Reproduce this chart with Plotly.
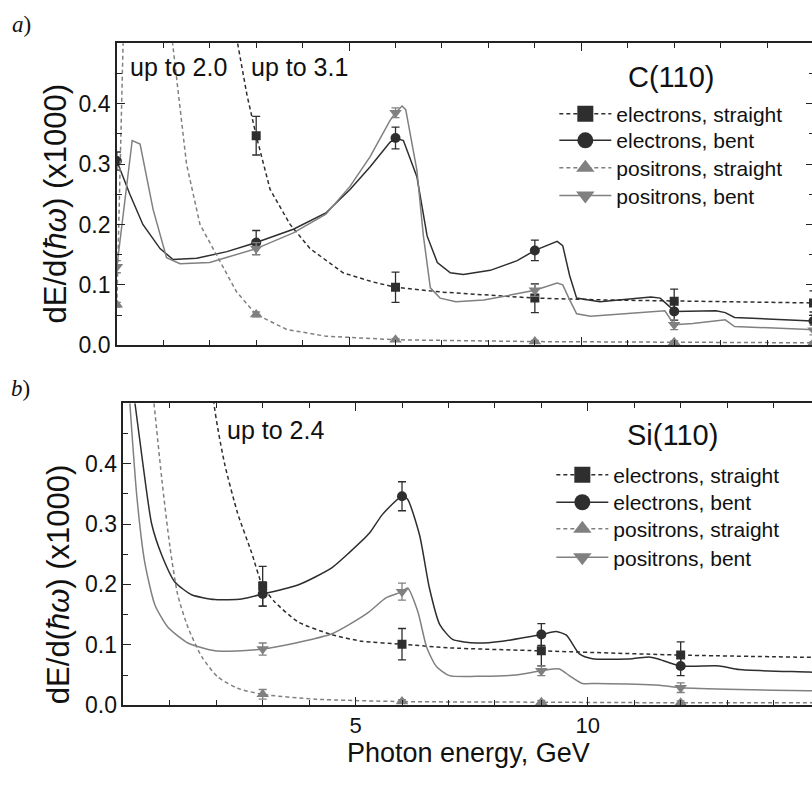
import plotly.graph_objects as go

# ---------------- data: panel a) C(110) ----------------
A_ES_CX = [0, 2.6, 2.8, 3.0, 3.3, 3.73, 4.16, 4.87, 5.5, 6.0, 7.0, 7.9, 9.0, 10.5, 12.0, 13.5, 15.0]
A_ES_CY = [3.1, 0.5, 0.415, 0.347, 0.258, 0.20, 0.16, 0.12, 0.105, 0.096, 0.088, 0.083, 0.078, 0.075, 0.073, 0.071, 0.070]
A_ES_MX = [3, 6, 9, 12, 15]
A_ES_MY = [0.347, 0.096, 0.078, 0.073, 0.070]
A_ES_ER = [0.032, 0.025, 0.024, 0.02, 0.02]

A_EB_CX = [0, 0.28, 0.56, 0.93, 1.21, 1.72, 2.37, 3.0, 3.8, 4.5, 5.02, 5.45, 5.88, 6.0, 6.17, 6.46, 6.68,
           6.9, 7.18, 7.46, 8.04, 8.62, 9.0, 9.48, 9.6, 9.75, 9.9, 10.4, 11.5, 11.7, 11.9, 12.0, 12.9,
           13.1, 13.3, 14.9, 15.0]
A_EB_CY = [0.305, 0.25, 0.20, 0.16, 0.142, 0.144, 0.155, 0.170, 0.192, 0.219, 0.258, 0.295, 0.336, 0.343,
           0.339, 0.279, 0.181, 0.137, 0.120, 0.117, 0.124, 0.140, 0.157, 0.172, 0.165, 0.115, 0.078,
           0.072, 0.080, 0.078, 0.064, 0.056, 0.057, 0.054, 0.046, 0.041, 0.040]
A_EB_MX = [0, 3, 6, 9, 12, 15]
A_EB_MY = [0.305, 0.170, 0.343, 0.157, 0.056, 0.040]
A_EB_ER = [0.015, 0.02, 0.018, 0.017, 0.015, 0.015]

A_PB_CX = [0, 0.33, 0.5, 0.78, 1.07, 1.36, 2.0, 3.0, 3.8, 4.5, 5.02, 5.45, 5.88, 6.0, 6.14, 6.22, 6.46,
           6.6, 6.75, 6.96, 7.3, 7.9, 8.47, 9.0, 9.48, 9.6, 9.75, 9.9, 10.2, 11.0, 11.8, 12.0, 12.4,
           13.1, 13.3, 14.9, 15.0]
A_PB_CY = [0.13, 0.339, 0.333, 0.225, 0.145, 0.135, 0.137, 0.160, 0.186, 0.217, 0.263, 0.312, 0.372,
           0.385, 0.396, 0.39, 0.29, 0.181, 0.095, 0.078, 0.072, 0.075, 0.083, 0.091, 0.103, 0.100,
           0.075, 0.052, 0.048, 0.052, 0.057, 0.034, 0.036, 0.042, 0.031, 0.026, 0.025]
A_PB_MX = [0, 3, 6, 9, 12, 15]
A_PB_MY = [0.13, 0.160, 0.385, 0.091, 0.034, 0.025]
A_PB_ER = [0.01, 0.01, 0.008, 0.01, 0.008, 0.008]

A_PS_CX = [0, 0.6, 1.2, 1.5, 1.79, 2.15, 2.58, 3.0, 3.66, 4.5, 6.0, 9.0, 12.0, 15.0]
A_PS_CY = [0.067, 2.0, 0.5, 0.30, 0.20, 0.148, 0.088, 0.051, 0.026, 0.015, 0.009, 0.006, 0.005, 0.004]
A_PS_MX = [0, 3, 6, 9, 12, 15]
A_PS_MY = [0.067, 0.051, 0.009, 0.006, 0.005, 0.004]
A_PS_ER = [0.004, 0.004, 0.002, 0.002, 0.002, 0.002]

# ---------------- data: panel b) Si(110) ----------------
B_ES_CX = [0, 1.95, 2.18, 2.46, 2.76, 3.0, 3.26, 3.76, 4.48, 5.13, 6.0, 7.0, 9.0, 12.0, 15.0]
B_ES_CY = [2.4, 0.5, 0.40, 0.318, 0.253, 0.197, 0.171, 0.138, 0.117, 0.106, 0.101, 0.095, 0.090, 0.083, 0.079]
B_ES_MX = [3, 6, 9, 12, 15]
B_ES_MY = [0.197, 0.101, 0.090, 0.083, 0.079]
B_ES_ER = [0.033, 0.026, 0.025, 0.022, 0.02]

B_EB_CX = [0.25, 0.42, 0.61, 0.83, 1.11, 1.47, 1.97, 2.55, 3.0, 3.76, 4.48, 4.87, 5.3, 5.58, 6.0, 6.12,
           6.38, 6.59, 6.81, 7.09, 7.6, 8.16, 9.0, 9.32, 9.54, 9.82, 10.1, 10.96, 11.32, 11.5, 12.0,
           12.83, 13.26, 14.76, 15.0]
B_EB_CY = [0.5, 0.40, 0.30, 0.248, 0.204, 0.183, 0.175, 0.176, 0.184, 0.199, 0.227, 0.253, 0.285, 0.316,
           0.346, 0.341, 0.281, 0.194, 0.134, 0.109, 0.103, 0.106, 0.117, 0.122, 0.116, 0.085, 0.077,
           0.077, 0.080, 0.077, 0.065, 0.065, 0.059, 0.055, 0.054]
B_EB_MX = [3, 6, 9, 12, 15]
B_EB_MY = [0.184, 0.346, 0.117, 0.065, 0.054]
B_EB_ER = [0.02, 0.024, 0.018, 0.016, 0.015]

B_PB_CX = [0.14, 0.29, 0.46, 0.68, 0.96, 1.39, 1.97, 2.55, 3.0, 3.76, 4.48, 4.87, 5.3, 5.66, 6.0, 6.12,
           6.34, 6.53, 6.74, 7.02, 7.73, 8.45, 9.0, 9.39, 9.6, 9.88, 10.2, 11.54, 12.0, 13.26, 14.76, 15.0]
B_PB_CY = [0.5, 0.346, 0.237, 0.166, 0.129, 0.103, 0.090, 0.090, 0.093, 0.104, 0.118, 0.134, 0.155,
           0.178, 0.188, 0.194, 0.155, 0.096, 0.064, 0.049, 0.048, 0.050, 0.057, 0.060, 0.049, 0.036,
           0.036, 0.033, 0.029, 0.026, 0.024, 0.024]
B_PB_MX = [3, 6, 9, 12, 15]
B_PB_MY = [0.093, 0.188, 0.057, 0.029, 0.024]
B_PB_ER = [0.01, 0.014, 0.008, 0.008, 0.008]

B_PS_CX = [0.66, 0.83, 1.0, 1.17, 1.39, 1.69, 2.03, 2.46, 3.0, 4.12, 6.0, 9.0, 12.0, 15.0]
B_PS_CY = [0.5, 0.373, 0.264, 0.183, 0.129, 0.080, 0.047, 0.028, 0.018, 0.010, 0.006, 0.005, 0.004, 0.004]
B_PS_MX = [3, 6, 9, 12, 15]
B_PS_MY = [0.018, 0.006, 0.005, 0.004, 0.004]
B_PS_ER = [0.008, 0.003, 0.003, 0.003, 0.003]

SERIES_NAMES = ["electrons, straight", "electrons, bent", "positrons, straight", "positrons, bent"]
Y_TICKS = [0.0, 0.1, 0.2, 0.3, 0.4]
Y_TICKTEXT = ["0.0", "0.1", "0.2", "0.3", "0.4"]
X_TICKS = [5, 10]
X_TICKTEXT = ["5", "10"]

# ---------------- styling ----------------
# The figure is slightly wider than the 812 px window so that, as in the
# reference, the right-hand frame falls just outside the visible page.
W, H = 822, 790
DARK = "#2e2e2e"
GRAY = "#808080"
DASH = "4px,3px"
FONT = "Liberation Sans, Arial, Helvetica, sans-serif"

STYLES = {
    "electrons, straight": dict(color=DARK, dash=DASH, symbol="square", size=9),
    "electrons, bent": dict(color=DARK, dash="solid", symbol="circle", size=10),
    "positrons, straight": dict(color=GRAY, dash=DASH, symbol="triangle-up", size=11),
    "positrons, bent": dict(color=GRAY, dash="solid", symbol="triangle-down", size=11),
}


def px_x(p):
    return p / W


def px_y(p):
    return (H - p) / H


fig = go.Figure()

# one single-entry legend per row so that row positions follow the reference
LEG_ROWS_A = [116, 143, 171, 199]
LEG_ROWS_B = [483, 511, 538, 567]
LEG_X_A = 555
LEG_X_B = 552
legend_layouts = {}
legend_ids_a = []
legend_ids_b = []
for i in range(4):
    la = "legend" if i == 0 else "legend%d" % (i + 1)
    lb = "legend%d" % (i + 5)
    legend_ids_a.append(la)
    legend_ids_b.append(lb)
    base = dict(xanchor="left", yanchor="middle", bgcolor="rgba(0,0,0,0)",
                font=dict(family=FONT, size=21, color="#111"), itemwidth=52)
    legend_layouts[la] = dict(x=px_x(LEG_X_A), y=px_y(LEG_ROWS_A[i]), **base)
    legend_layouts[lb] = dict(x=px_x(LEG_X_B), y=px_y(LEG_ROWS_B[i]), **base)


def add_series(name, cx, cy, mx, my, er, xa, ya, legend, shape):
    st = STYLES[name]
    fig.add_trace(go.Scatter(x=cx, y=cy, mode="lines", xaxis=xa, yaxis=ya, showlegend=False,
                             line=dict(color=st["color"], width=1.5, dash=st["dash"], shape=shape,
                                       smoothing=0.6), hoverinfo="skip"))
    fig.add_trace(go.Scatter(x=mx, y=my, mode="markers", xaxis=xa, yaxis=ya, showlegend=False,
                             marker=dict(symbol=st["symbol"], size=st["size"], color=st["color"]),
                             error_y=dict(type="data", array=er, width=4, thickness=1.3,
                                          color=st["color"])))
    # legend-only entry with the larger legend glyph
    fig.add_trace(go.Scatter(x=[None], y=[None], mode="lines+markers", xaxis=xa, yaxis=ya,
                             name=name, legend=legend,
                             line=dict(color=st["color"], width=1.5, dash=st["dash"]),
                             marker=dict(symbol=st["symbol"], size=16, color=st["color"])))


panel_a = [
    (A_ES_CX, A_ES_CY, A_ES_MX, A_ES_MY, A_ES_ER),
    (A_EB_CX, A_EB_CY, A_EB_MX, A_EB_MY, A_EB_ER),
    (A_PS_CX, A_PS_CY, A_PS_MX, A_PS_MY, A_PS_ER),
    (A_PB_CX, A_PB_CY, A_PB_MX, A_PB_MY, A_PB_ER),
]
panel_b = [
    (B_ES_CX, B_ES_CY, B_ES_MX, B_ES_MY, B_ES_ER),
    (B_EB_CX, B_EB_CY, B_EB_MX, B_EB_MY, B_EB_ER),
    (B_PS_CX, B_PS_CY, B_PS_MX, B_PS_MY, B_PS_ER),
    (B_PB_CX, B_PB_CY, B_PB_MX, B_PB_MY, B_PB_ER),
]
for i, (name, d) in enumerate(zip(SERIES_NAMES, panel_a)):
    add_series(name, *d, "x", "y", legend_ids_a[i], "linear")
for i, (name, d) in enumerate(zip(SERIES_NAMES, panel_b)):
    add_series(name, *d, "x2", "y2", legend_ids_b[i], "spline")

common_x = dict(showline=True, linecolor="#222", linewidth=1.5, mirror="allticks",
                ticks="inside", ticklen=8, tickwidth=1.3, tickcolor="#222",
                tickmode="array", tickvals=X_TICKS, ticktext=X_TICKTEXT,
                minor=dict(tickmode="linear", tick0=0, dtick=1, ticks="inside", ticklen=5,
                           tickwidth=1.2, tickcolor="#222", showgrid=False),
                showgrid=False, zeroline=False,
                tickfont=dict(family=FONT, size=22, color="#111"))
common_y = dict(showline=True, linecolor="#222", linewidth=1.5, mirror="allticks",
                ticks="inside", ticklen=8, tickwidth=1.3, tickcolor="#222",
                tickmode="array", tickvals=Y_TICKS, ticktext=Y_TICKTEXT, range=[0, 0.5],
                minor=dict(tickmode="linear", tick0=0, dtick=0.05, ticks="inside", ticklen=5,
                           tickwidth=1.2, tickcolor="#222", showgrid=False),
                showgrid=False, zeroline=False,
                tickfont=dict(family=FONT, size=23, color="#111"))

fig.update_layout(
    width=W, height=H,
    margin=dict(l=0, r=0, t=0, b=0),
    paper_bgcolor="white", plot_bgcolor="white",
    font=dict(family=FONT, color="#111"),
    xaxis=dict(domain=[px_x(117), px_x(814.5)], range=[0, 15], anchor="y", showticklabels=False, **common_x),
    yaxis=dict(domain=[px_y(351), px_y(44)], anchor="x", **common_y),
    xaxis2=dict(domain=[px_x(123.5), px_x(821)], range=[0, 15], anchor="y2", **common_x),
    yaxis2=dict(domain=[px_y(717), px_y(410)], anchor="x2", **common_y),
    **legend_layouts,
)

SERIF = "Liberation Serif, Times New Roman, serif"
ann = [
    dict(text="<i>a</i>)", x=px_x(22), y=px_y(25), font=dict(family=SERIF, size=23)),
    dict(text="<i>b</i>)", x=px_x(21), y=px_y(395), font=dict(family=SERIF, size=23)),
    dict(text="up to 2.0", x=px_x(179), y=px_y(68), font=dict(family=FONT, size=25)),
    dict(text="up to 3.1", x=px_x(300), y=px_y(68), font=dict(family=FONT, size=25)),
    dict(text="up to 2.4", x=px_x(276), y=px_y(437), font=dict(family=FONT, size=25)),
    dict(text="C(110)", x=px_x(672), y=px_y(78), font=dict(family=FONT, size=29)),
    dict(text="Si(110)", x=px_x(673), y=px_y(442), font=dict(family=FONT, size=29)),
    dict(text="dE/d(<i>ħω</i>) (x1000)", x=px_x(56), y=px_y(207), textangle=-90, font=dict(family=FONT, size=31)),
    dict(text="dE/d(<i>ħω</i>) (x1000)", x=px_x(58), y=px_y(594), textangle=-90, font=dict(family=FONT, size=31)),
    dict(text="Photon energy, GeV", x=px_x(469), y=px_y(766), font=dict(family=FONT, size=27)),
]
for a in ann:
    a.update(xref="paper", yref="paper", showarrow=False, xanchor="center", yanchor="middle")
    a["font"].setdefault("color", "#111")
    fig.add_annotation(**a)

fig.write_html(
    "out.html",
    config={"displayModeBar": False},
    post_script="document.body.style.margin='0px';document.body.style.overflow='hidden';"
                "document.documentElement.style.overflow='hidden';",
)
